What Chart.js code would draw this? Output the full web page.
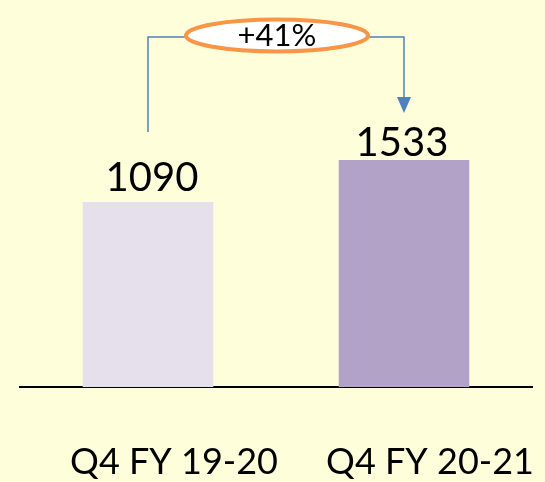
<!DOCTYPE html>
<html>
<head>
<meta charset="utf-8">
<script src="https://cdn.jsdelivr.net/npm/chart.js@4"></script>
<style>
  html, body { margin: 0; padding: 0; background: #FEFFDA; }
  #wrap { width: 545px; height: 482px; }
</style>
</head>
<body>
<div id="wrap"><canvas id="c" width="545" height="482"></canvas></div>
<script>
const categories = ["Q4 FY 19-20", "Q4 FY 20-21"];
const values = [1090, 1533];
const barColors = ["#E6E0EC", "#B3A2C7"];

const growthPct = Math.round((values[1] / values[0] - 1) * 100);
const growthLabel = "+" + growthPct + "%";

const bgPlugin = {
  id: "bg",
  beforeDraw(chart) {
    const ctx = chart.ctx;
    ctx.save();
    ctx.fillStyle = "#FEFFDA";
    ctx.fillRect(0, 0, chart.width, chart.height);
    ctx.restore();
  }
};

const labelPlugin = {
  id: "labels",
  afterDatasetsDraw(chart) {
    const ctx = chart.ctx;
    const meta = chart.getDatasetMeta(0);
    const bars = meta.data;
    ctx.save();
    ctx.fillStyle = "#000";
    ctx.font = "40px Lato";
    ctx.textAlign = "center";
    ctx.textBaseline = "alphabetic";
    const gaps = [11, 4];
    bars.forEach((b, i) => {
      ctx.fillText(String(values[i]), b.x + (i === 0 ? 4 : -2), b.y - gaps[i]);
    });

    // connector
    const x1 = bars[0].x, x2 = bars[1].x;
    const yTop = 37;
    const yLeftBottom = bars[0].y - 70;
    const yTip = bars[1].y - 47;
    ctx.strokeStyle = "#4F81BD";
    ctx.lineWidth = 1.5;
    ctx.beginPath();
    ctx.moveTo(x1, yLeftBottom);
    ctx.lineTo(x1, yTop);
    ctx.lineTo(x2, yTop);
    ctx.lineTo(x2, yTip - 14);
    ctx.stroke();
    ctx.fillStyle = "#4F81BD";
    ctx.beginPath();
    ctx.moveTo(x2 - 7, yTip - 16);
    ctx.lineTo(x2 + 7, yTip - 16);
    ctx.lineTo(x2, yTip);
    ctx.closePath();
    ctx.fill();

    // ellipse
    const cx = (x1 + x2) / 2 + 1, cy = 35.5;
    ctx.beginPath();
    ctx.ellipse(cx, cy, 91, 16, 0, 0, Math.PI * 2);
    ctx.fillStyle = "#FFFFFF";
    ctx.fill();
    ctx.lineWidth = 4;
    ctx.strokeStyle = "#F79646";
    ctx.stroke();
    ctx.fillStyle = "#000";
    ctx.font = "31px Lato";
    ctx.textBaseline = "alphabetic";
    ctx.fillText(growthLabel, cx, 46);
    ctx.restore();
  }
};

new Chart(document.getElementById("c"), {
  type: "bar",
  data: {
    labels: categories,
    datasets: [{
      data: values,
      backgroundColor: barColors,
      borderWidth: 0,
      base: -860,
      categoryPercentage: 1,
      barPercentage: 0.51
    }]
  },
  options: {
    responsive: false,
    animation: false,
    events: [],
    layout: { padding: { left: 20, right: 13, top: 20, bottom: 0 } },
    plugins: { legend: { display: false }, tooltip: { enabled: false } },
    scales: {
      y: { display: false, min: -860, max: 3010 },
      x: {
        grid: { display: false, drawTicks: false },
        border: { display: true, color: "#000", width: 2 },
        afterFit(scale) {
          scale.height = 95;
          scale.paddingLeft = 0;
          scale.paddingRight = 0;
        },
        ticks: {
          color: "#000",
          font: { family: "Lato", size: 36 },
          labelOffset: 26,
          padding: 54,
          maxRotation: 0,
          autoSkip: false
        }
      }
    }
  },
  plugins: [bgPlugin, labelPlugin]
});
</script>
</body>
</html>
